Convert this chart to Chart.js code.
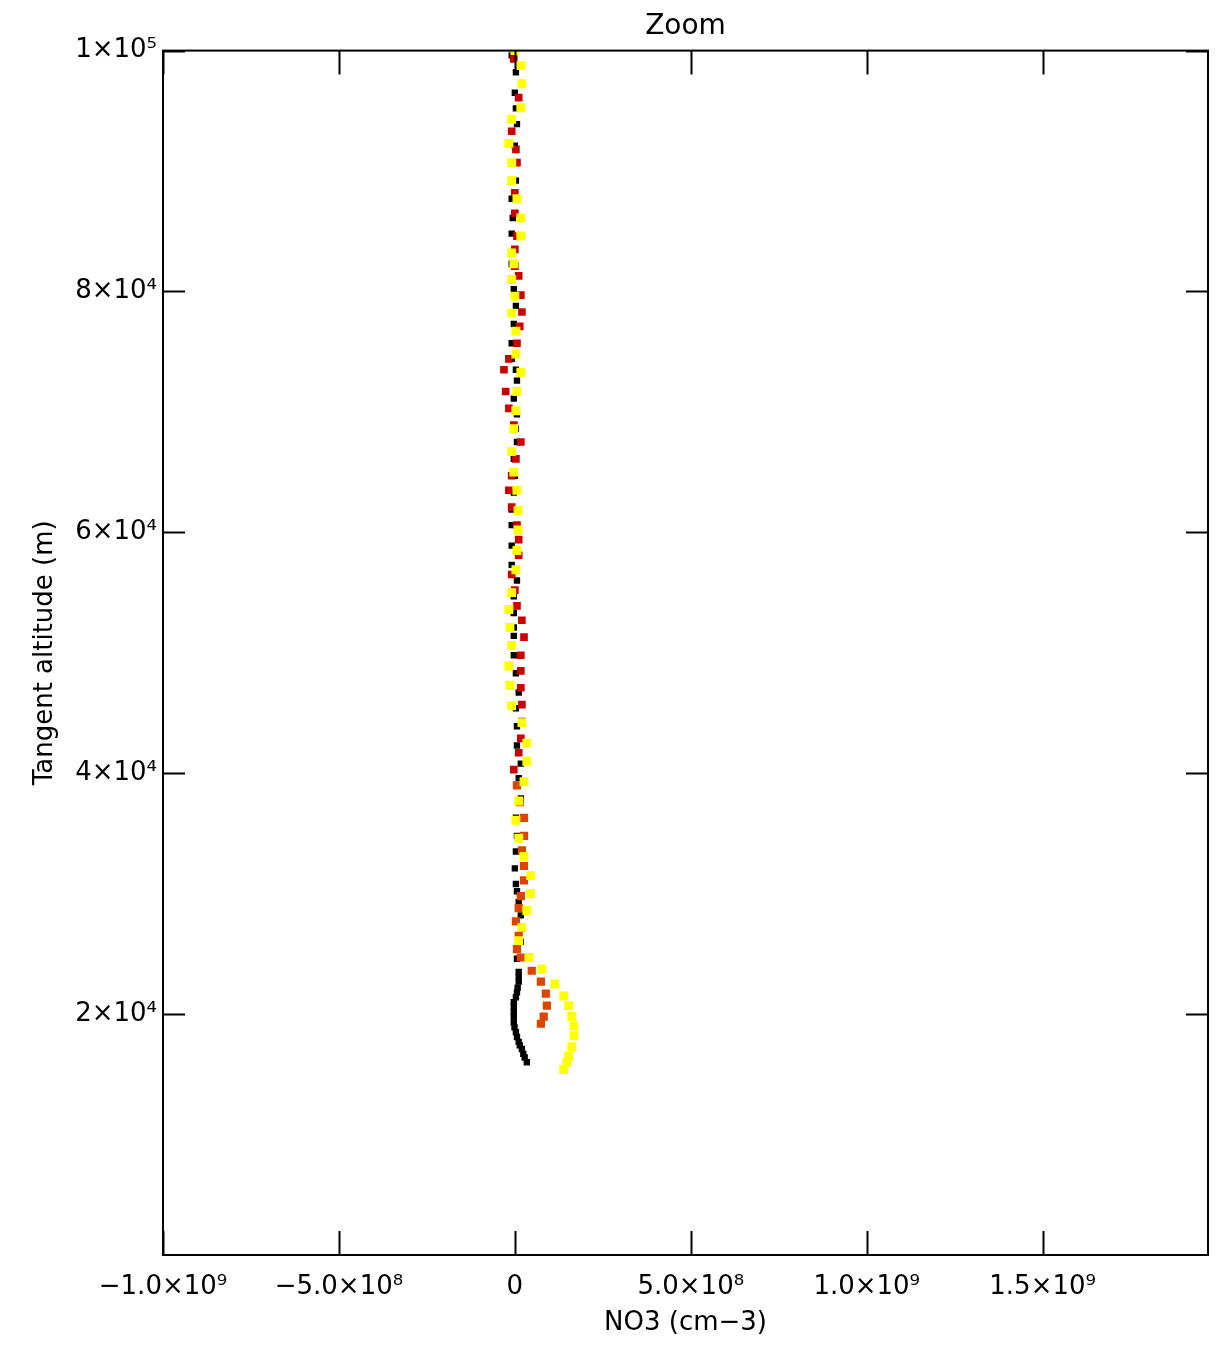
<!DOCTYPE html>
<html>
<head>
<meta charset="utf-8">
<script src="https://cdn.jsdelivr.net/npm/chart.js@4.4.1/dist/chart.umd.min.js"></script>
<style>
  html, body { margin: 0; padding: 0; background: #fff; }
  #wrap { width: 1223px; height: 1349px; }
</style>
</head>
<body>
<div id="wrap"><canvas id="chartZoom"></canvas></div>
<script>
// tick values and labels
const xTickValues = [-1.0e9, -5.0e8, 0, 5.0e8, 1.0e9, 1.5e9];
const xTickLabels = ["\u22121.0\u00d710\u2079", "\u22125.0\u00d710\u2078", "0", "5.0\u00d710\u2078", "1.0\u00d710\u2079", "1.5\u00d710\u2079"];
const yTickValues = [20000, 40000, 60000, 80000, 100000];
const yTickLabels = ["2\u00d710\u2074", "4\u00d710\u2074", "6\u00d710\u2074", "8\u00d710\u2074", "1\u00d710\u2075"];

// black profile
const blackAlt = [99600,98200,96500,95200,93900,92100,89200,87700,86100,84800,
  82300,80200,78800,77300,75700,74400,73500,72600,71100,69800,
  68600,67500,66100,64700,63300,61900,60600,58900,57300,56000,
  54700,53300,52100,51400,49800,48300,46700,45400,43900,42300,
  40800,39600,37900,36300,34800,33500,32100,30800,30200,29300,
  28200,27100,26000,24600,23500,23100,22700,22200,21800,21400,
  21000,20600,20200,19800,19300,18900,18500,18100,17700,17400,
  17100,16700,16400,16000];
const blackNO3 = [-9e6,3e6,0,3e6,6e6,0,3e6,-9e6,-6e6,-9e6,
  -9e6,-3e6,3e6,-3e6,-9e6,-9e6,3e6,6e6,-3e6,6e6,
  3e6,6e6,-3e6,0,-3e6,-9e6,-9e6,-9e6,-9e6,6e6,
  -3e6,-3e6,-3e6,-3e6,-3e6,3e6,11e6,3e6,6e6,6e6,
  17e6,11e6,17e6,3e6,6e6,3e6,0,3e6,6e6,11e6,
  17e6,20e6,17e6,6e6,11e6,11e6,11e6,8e6,6e6,3e6,
  -3e6,-3e6,-3e6,-3e6,-3e6,-1e6,3e6,6e6,11e6,14e6,
  20e6,24e6,28e6,34e6];

// red profile (upper part)
const redAlt = [99300,96100,93300,91800,90700,88200,86500,84600,83500,82100,
  81300,79700,78300,77100,75700,74400,73500,71700,70300,68900,
  67500,66100,64700,63500,62100,60600,59400,58100,56500,55200,
  53900,52700,51300,49800,48500,47100,45700,44300,42900,41700,
  40300];
const redNO3 = [-3e6,11e6,-9e6,3e6,6e6,0,0,6e6,0,0,
  11e6,17e6,20e6,14e6,6e6,-17e6,-31e6,-26e6,-17e6,-3e6,
  17e6,3e6,-9e6,-17e6,-9e6,6e6,11e6,11e6,-9e6,0,
  6e6,20e6,26e6,17e6,17e6,17e6,20e6,20e6,17e6,11e6,
  -3e6];

// orange profile (lower part)
const orangeAlt = [39000,37600,36300,34800,33600,32300,31100,29800,28800,27700,
  26500,25400,24700,23600,22700,21700,20700,19800,19200];
const orangeNO3 = [6e6,14e6,26e6,26e6,20e6,26e6,26e6,17e6,11e6,3e6,
  11e6,6e6,17e6,48e6,74e6,88e6,91e6,82e6,74e6];

// yellow profile
const yellowAlt = [100000,98750,97250,95250,94300,92300,90700,89200,87700,86100,
  84600,83200,82300,81000,79600,78200,76700,74800,73300,71700,
  70100,68600,66700,65000,63500,61800,60200,58500,56900,55000,
  53600,52100,50600,48900,47300,45600,44200,42500,41000,39300,
  37700,36100,34600,33100,31500,30000,28600,27200,26100,24700,
  23750,22500,21500,20700,19800,19000,18200,17300,16500,16000,
  15400];
const yellowNO3 = [0,17e6,20e6,17e6,-9e6,-17e6,-9e6,-9e6,6e6,17e6,
  17e6,-9e6,-3e6,-9e6,0,-9e6,3e6,3e6,17e6,6e6,
  3e6,-3e6,-9e6,-3e6,6e6,9e6,9e6,6e6,3e6,-9e6,
  -17e6,-14e6,-9e6,-17e6,-14e6,-9e6,20e6,34e6,34e6,26e6,
  11e6,3e6,11e6,26e6,45e6,45e6,34e6,20e6,11e6,40e6,
  77e6,114e6,139e6,153e6,162e6,168e6,168e6,162e6,153e6,148e6,
  139e6];

function pts(xs, ys) {
  return xs.map((x, i) => ({ x: x, y: ys[i] }));
}

const fontFam = "'DejaVu Sans', 'Liberation Sans', sans-serif";

// frame box and inward ticks on all four sides
const framePlugin = {
  id: 'frame',
  afterDraw(chart) {
    const ctx = chart.ctx;
    const a = chart.chartArea;
    const xs = chart.scales.x;
    const ys = chart.scales.y;
    ctx.save();
    ctx.strokeStyle = '#000';
    ctx.lineWidth = 2;
    ctx.strokeRect(a.left, a.top, a.right - a.left, a.bottom - a.top);
    ctx.beginPath();
    xTickValues.forEach(v => {
      const px = Math.round(xs.getPixelForValue(v)) + 0.5;
      ctx.moveTo(px, a.bottom);
      ctx.lineTo(px, a.bottom - 24);
      ctx.moveTo(px, a.top);
      ctx.lineTo(px, a.top + 24);
    });
    yTickValues.forEach(v => {
      const py = Math.round(ys.getPixelForValue(v)) + 0.5;
      ctx.moveTo(a.left, py);
      ctx.lineTo(a.left + 22, py);
      ctx.moveTo(a.right, py);
      ctx.lineTo(a.right - 22, py);
    });
    ctx.stroke();
    ctx.restore();
  }
};

const ctx = document.getElementById('chartZoom').getContext('2d');
const chart = new Chart(ctx, {
  type: 'scatter',
  data: {
    datasets: [
      { label: 'yellow', data: pts(yellowNO3, yellowAlt), backgroundColor: '#ffff00', pointRadius: 6.3, borderWidth: 0, pointStyle: 'rect' },
      { label: 'orange', data: pts(orangeNO3, orangeAlt), backgroundColor: '#dd4400', pointRadius: 5.8, borderWidth: 0, pointStyle: 'rect' },
      { label: 'red', data: pts(redNO3, redAlt), backgroundColor: '#cc0000', pointRadius: 5.4, borderWidth: 0, pointStyle: 'rect' },
      { label: 'black', data: pts(blackNO3, blackAlt), backgroundColor: '#000000', pointRadius: 4.5, borderWidth: 0, pointStyle: 'rect' }
    ]
  },
  options: {
    responsive: true,
    maintainAspectRatio: false,
    animation: false,
    layout: { padding: { left: 0, right: 15, top: 0, bottom: 0 } },
    plugins: {
      legend: { display: false },
      tooltip: { enabled: false },
      title: {
        display: true,
        fullSize: false,
        text: 'Zoom',
        color: '#000',
        font: { family: fontFam, size: 28, weight: 'normal' },
        padding: { top: 10, bottom: 7 }
      }
    },
    scales: {
      x: {
        type: 'linear',
        min: -1.0e9,
        max: 1.97e9,
        afterBuildTicks: s => { s.ticks = xTickValues.map(v => ({ value: v })); },
        afterFit: s => { s.height = 94; },
        grid: { display: false, drawTicks: false },
        border: { display: false },
        ticks: {
          autoSkip: false,
          maxRotation: 0,
          padding: 17,
          color: '#000',
          font: { family: fontFam, size: 26 },
          callback: v => { const i = xTickValues.indexOf(v); return i >= 0 ? xTickLabels[i] : ''; }
        },
        title: {
          display: true,
          text: 'NO3 (cm\u22123)',
          color: '#000',
          font: { family: fontFam, size: 26 },
          padding: { top: 0, bottom: 10 }
        }
      },
      y: {
        type: 'linear',
        min: 0,
        max: 100000,
        afterBuildTicks: s => { s.ticks = yTickValues.map(v => ({ value: v })); },
        afterFit: s => { s.width = 163; },
        grid: { display: false, drawTicks: false },
        border: { display: false },
        ticks: {
          autoSkip: false,
          padding: 6,
          color: '#000',
          font: { family: fontFam, size: 26 },
          callback: v => { const i = yTickValues.indexOf(v); return i >= 0 ? yTickLabels[i] : ''; }
        },
        title: {
          display: true,
          text: 'Tangent altitude (m)',
          color: '#000',
          font: { family: fontFam, size: 26 },
          padding: { top: 30, bottom: 0 }
        }
      }
    }
  },
  plugins: [framePlugin]
});
</script>
</body>
</html>
